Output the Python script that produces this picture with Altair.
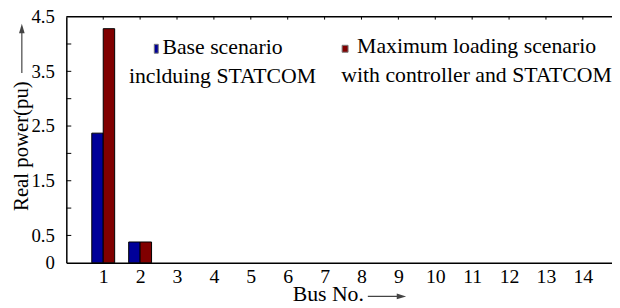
import altair as alt
import pandas as pd

# ---- data ----
buses = list(range(1, 15))
base_vals = [2.37, 0.38, 0, 0, 0, 0, 0, 0, 0, 0, 0, 0, 0, 0]
max_vals = [4.28, 0.38, 0, 0, 0, 0, 0, 0, 0, 0, 0, 0, 0, 0]
series_names = ["Base scenario inclduing STATCOM",
                "Maximum loading scenario with controller and STATCOM"]
series_colors = ["#000099", "#800000"]
y_label_values = [0, 0.5, 1.5, 2.5, 3.5, 4.5]
y_tick_values = [0.5, 1.0, 1.5, 2.0, 2.5, 3.0, 3.5, 4.0]
legend1_lines = ["Base scenario", "inclduing STATCOM"]
legend2_lines = ["Maximum loading scenario", "with controller and STATCOM"]
y_title = "Real power(pu)"
x_title = "Bus No."

FONT = "Liberation Serif"
W, H = 552, 249
X_DOMAIN = [0, 14.79]
Y_DOMAIN = [0, 4.5]

rows = []
for i, (name, vals) in enumerate([(series_names[0], base_vals), (series_names[1], max_vals)]):
    for b, v in zip(buses, vals):
        rows.append({"bus": b, "series": name, "k": i, "value": v})
df = pd.DataFrame(rows)

xscale = alt.Scale(domain=X_DOMAIN, nice=False, zero=False)
yscale = alt.Scale(domain=Y_DOMAIN, nice=False)

bars = alt.Chart(df).transform_filter("datum.value > 0").transform_calculate(
    x0="datum.bus - 0.31 + datum.k * 0.31",
    x1="datum.bus + datum.k * 0.31",
).mark_bar(stroke="black", strokeWidth=1).encode(
    x=alt.X("x0:Q", scale=xscale,
            axis=alt.Axis(values=buses, ticks=False, grid=False, title=None,
                          labelFont=FONT, labelFontSize=20, labelColor="black",
                          labelPadding=4, domainColor="black", domainWidth=1.5,
                          format="d")),
    x2="x1:Q",
    y=alt.Y("value:Q", scale=yscale,
            axis=alt.Axis(values=y_label_values, ticks=False, grid=False, title=None,
                          labelFont=FONT, labelFontSize=19, labelColor="black",
                          labelPadding=12, domainColor="black", domainWidth=1.5,
                          labelExpr="datum.value == 0 ? '0' : format(datum.value, '.1f')")),
    y2=alt.datum(0),
    color=alt.Color("series:N", scale=alt.Scale(domain=series_names, range=series_colors),
                    legend=None),
)

one = pd.DataFrame({"a": [0]})

top_border = alt.Chart(one).mark_rule(color="black", strokeWidth=1.5).encode(
    y=alt.datum(Y_DOMAIN[1]), x=alt.value(0), x2=alt.value(W))

top_ticks = alt.Chart(pd.DataFrame({"bus": buses})).mark_rule(color="black", strokeWidth=1).encode(
    x=alt.X("bus:Q", scale=xscale), y=alt.value(0), y2=alt.value(3))

left_ticks = alt.Chart(pd.DataFrame({"v": y_tick_values})).mark_rule(color="black", strokeWidth=1).encode(
    y=alt.Y("v:Q", scale=yscale), x=alt.value(0), x2=alt.value(5))

# legend entries
leg1_box = alt.Chart(one).mark_rect(color=series_colors[0], stroke="#777", strokeWidth=1).encode(
    x=alt.value(89), x2=alt.value(93), y=alt.value(28), y2=alt.value(37))
leg1_text = alt.Chart(one).mark_text(text=legend1_lines, font=FONT, fontSize=22, align="center",
                                     baseline="middle", lineHeight=29, color="black").encode(
    x=alt.value(158), y=alt.value(31))
leg2_box = alt.Chart(one).mark_rect(color=series_colors[1], stroke="#777", strokeWidth=1).encode(
    x=alt.value(279), x2=alt.value(285), y=alt.value(29), y2=alt.value(36))
leg2_text = alt.Chart(one).mark_text(text=legend2_lines, font=FONT, fontSize=22, align="center",
                                     baseline="middle", lineHeight=29, color="black").encode(
    x=alt.value(415), y=alt.value(30))

# axis titles with arrows
ytitle = alt.Chart(one).mark_text(text=y_title, font=FONT, fontSize=21, angle=270,
                                  align="center", baseline="middle", color="black").encode(
    x=alt.value(-45), y=alt.value(131))
yshaft = alt.Chart(one).mark_rule(color="#444", strokeWidth=1.2).encode(
    x=alt.value(-45), y=alt.value(14), y2=alt.value(57))
yhead = alt.Chart(one).mark_point(shape="M-0.6,1 L0.6,1 L0,-1 Z", filled=True, size=90,
                                  color="#444", opacity=1).encode(
    x=alt.value(-45), y=alt.value(12))
xtitle = alt.Chart(one).mark_text(text=x_title, font=FONT, fontSize=22, align="center",
                                  baseline="alphabetic", color="black").encode(
    x=alt.value(265), y=alt.value(288))
xshaft = alt.Chart(one).mark_rule(color="#444", strokeWidth=1.2).encode(
    x=alt.value(305), x2=alt.value(337), y=alt.value(283))
xhead = alt.Chart(one).mark_point(shape="M-1,-0.6 L-1,0.6 L1,0 Z", filled=True, size=90,
                                  color="#444", opacity=1).encode(
    x=alt.value(339), y=alt.value(283))

chart = alt.layer(
    bars, top_border, top_ticks, left_ticks,
    leg1_box, leg1_text, leg2_box, leg2_text,
    ytitle, yshaft, yhead, xtitle, xshaft, xhead,
).properties(
    width=W, height=H,
    autosize=alt.AutoSizeParams(type="none"),
    padding={"left": 59, "top": 7, "right": 0, "bottom": 44},
    background="white",
).configure_view(stroke=None)

chart.save("out.html", embed_options={"renderer": "svg", "actions": False})
